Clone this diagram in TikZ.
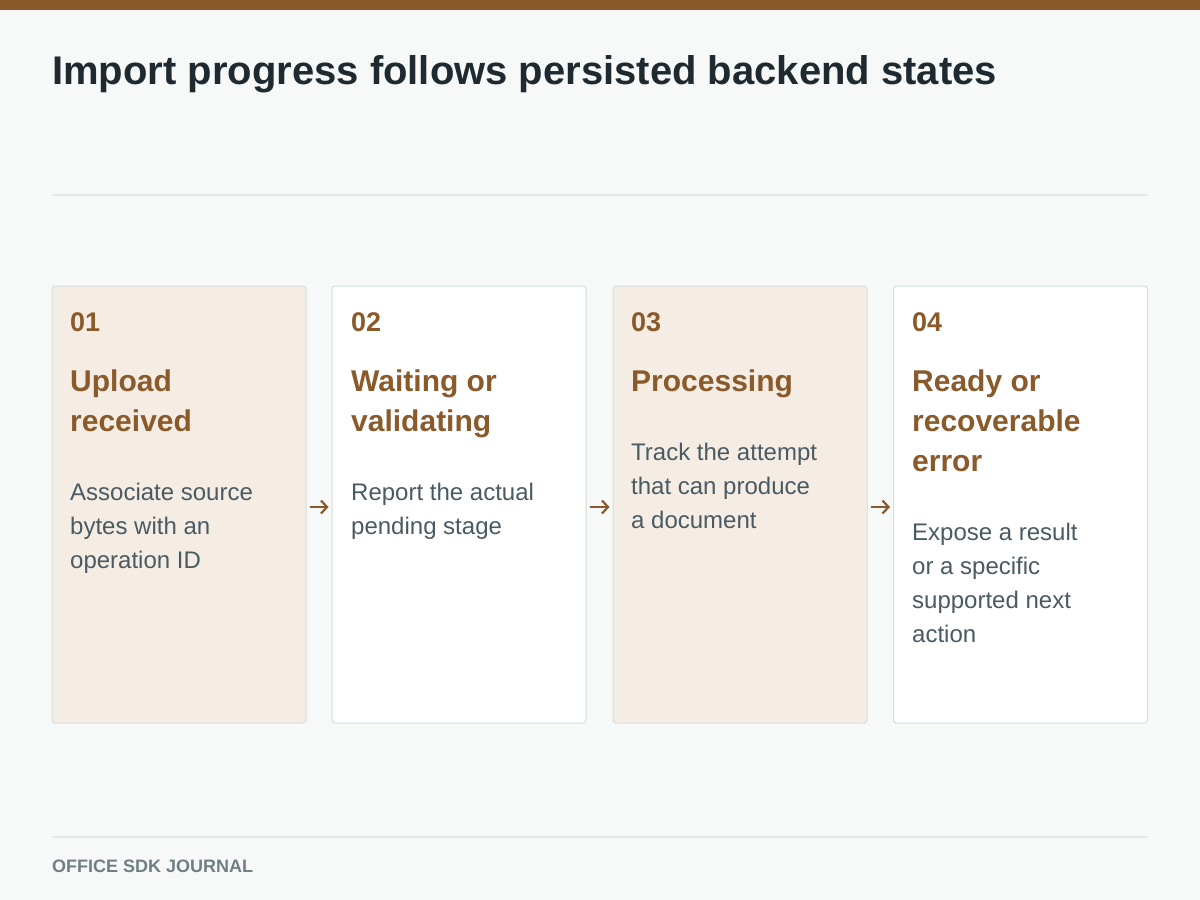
\documentclass[tikz,border=0pt]{standalone}
\usepackage{fontspec}
\setmainfont{Liberation Sans}
\usetikzlibrary{arrows.meta}
\definecolor{bg}{HTML}{F7F9F9}
\definecolor{brown}{HTML}{8B5A2B}
\definecolor{titlec}{HTML}{1F2A30}
\definecolor{descc}{HTML}{4A5A62}
\definecolor{rulec}{HTML}{E3E8E8}
\definecolor{cardline}{HTML}{D3DEDE}
\definecolor{tan}{HTML}{F5EDE4}
\definecolor{footc}{HTML}{6F7F84}
\begin{document}
\begin{tikzpicture}[x=1pt,y=-1pt,
  card/.style={draw=cardline, line width=1pt, rounded corners=3pt, minimum width=254pt, minimum height=437pt, inner sep=0pt},
  num/.style={anchor=base west, inner sep=0pt, text=brown, font=\fontsize{27}{30}\selectfont\bfseries},
  head/.style={anchor=base west, inner sep=0pt, text=brown, font=\fontsize{30}{34}\selectfont\bfseries},
  desc/.style={anchor=base west, inner sep=0pt, text=descc, font=\fontsize{24}{28}\selectfont},
  flow/.style={draw=brown, line width=2.2pt, -{Straight Barb[length=6pt,width=13pt,line width=2.2pt]}, shorten <=3.5pt, shorten >=3pt}
]
\useasboundingbox (0,0) rectangle (1200,900);
\fill[bg] (0,0) rectangle (1200,900);
\fill[brown] (0,0) rectangle (1200,10);
\node[anchor=base west, inner sep=0pt, text=titlec, font=\fontsize{40}{44}\selectfont\bfseries] (title) at (52,84) {Import progress follows persisted backend states};
\draw[rulec, line width=1.5pt] (52,195) -- (1148,195);
\draw[rulec, line width=1.5pt] (52,837) -- (1148,837);
\node[anchor=base west, inner sep=0pt, text=footc, font=\fontsize{18}{22}\selectfont\bfseries] (foot) at (52,872) {OFFICE SDK JOURNAL};

\node[card, fill=tan] (c1) at (179,504.5) {};
\node[card, fill=white] (c2) at (459,504.5) {};
\node[card, fill=tan] (c3) at (740,504.5) {};
\node[card, fill=white] (c4) at (1020.5,504.5) {};

% card 1
\node[num] (n1) at (70,331) {01};
\node[head] (h1a) at (70,391) {Upload};
\node[head] (h1b) at (70,431) {received};
\node[desc] (d1a) at (70,500) {Associate source};
\node[desc] (d1b) at (70,534) {bytes with an};
\node[desc] (d1c) at (70,568) {operation ID};
% card 2
\node[num] (n2) at (351,331) {02};
\node[head] (h2a) at (351,391) {Waiting or};
\node[head] (h2b) at (351,431) {validating};
\node[desc] (d2a) at (351,500) {Report the actual};
\node[desc] (d2b) at (351,534) {pending stage};
% card 3
\node[num] (n3) at (631,331) {03};
\node[head] (h3a) at (631,391) {Processing};
\node[desc] (d3a) at (631,460) {Track the attempt};
\node[desc] (d3b) at (631,494) {that can produce};
\node[desc] (d3c) at (631,528) {a document};
% card 4
\node[num] (n4) at (912,331) {04};
\node[head] (h4a) at (912,391) {Ready or};
\node[head] (h4b) at (912,431) {recoverable};
\node[head] (h4c) at (912,471) {error};
\node[desc] (d4a) at (912,540) {Expose a result};
\node[desc] (d4b) at (912,574) {or a specific};
\node[desc] (d4c) at (912,608) {supported next};
\node[desc] (d4d) at (912,642) {action};

\draw[flow] (c1.east) ++(0,2.5) coordinate (a1s) -- (a1s -| c2.west);
\draw[flow] (c2.east) ++(0,2.5) coordinate (a2s) -- (a2s -| c3.west);
\draw[flow] (c3.east) ++(0,2.5) coordinate (a3s) -- (a3s -| c4.west);
\end{tikzpicture}
\end{document}
